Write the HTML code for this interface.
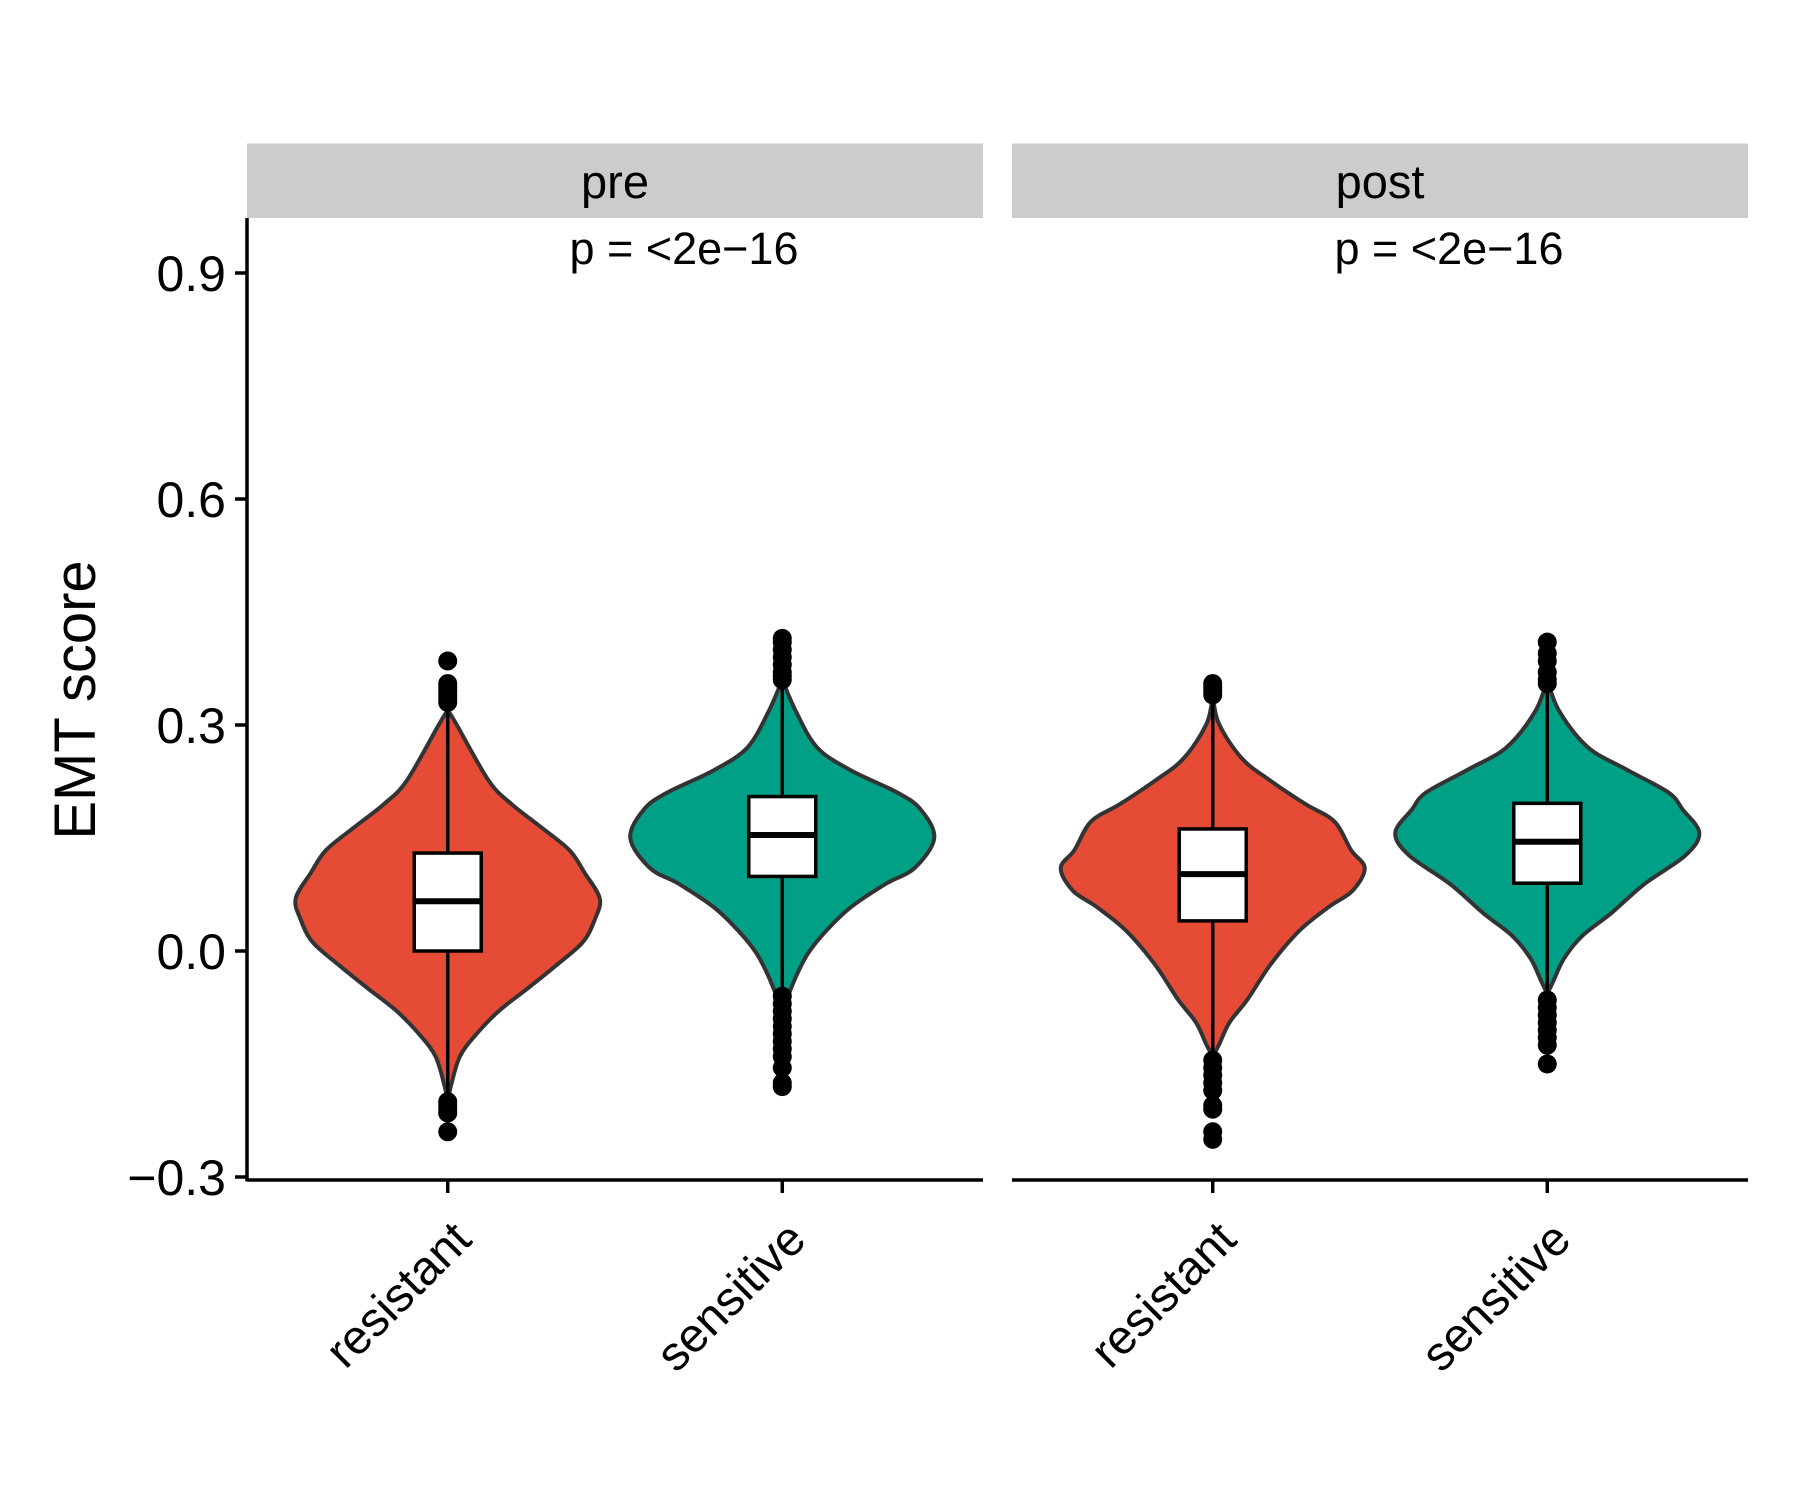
<!DOCTYPE html>
<html><head><meta charset="utf-8">
<style>
html,body{margin:0;padding:0;background:#fff;}
svg{display:block;font-family:"Liberation Sans",Arial,sans-serif;}
</style></head>
<body>
<svg id="chart" width="1800" height="1500" viewBox="0 0 1800 1500">
<g id="panels"></g>
</svg>
<script>
// ---- data ----
const panels = ["pre", "post"];
const categories = ["resistant", "sensitive"];
const yTicks = [-0.3, 0.0, 0.3, 0.6, 0.9];
const yTickLabels = ["\u22120.3", "0.0", "0.3", "0.6", "0.9"];
const pLabels = ["p = <2e\u221216", "p = <2e\u221216"];
// violin density profiles: y values and relative densities (0..1)
const preResY = [0.32,0.30,0.226,0.195,0.165,0.134,0.104,0.07,0.043,0.012,-0.018,-0.049,-0.079,-0.11,-0.14,-0.18,-0.2];
const preResD = [0,0.06,0.27,0.42,0.61,0.80,0.90,1.0,0.97,0.89,0.72,0.53,0.34,0.19,0.08,0.02,0];
const preSenY = [0.36,0.318,0.27,0.24,0.21,0.188,0.15,0.11,0.089,0.058,0.027,-0.003,-0.034,-0.064,-0.08];
const preSenD = [0,0.09,0.23,0.45,0.76,0.91,1.0,0.87,0.68,0.45,0.29,0.17,0.09,0.03,0];
const postResY = [0.34,0.302,0.256,0.226,0.195,0.172,0.134,0.11,0.08,0.058,0.027,-0.018,-0.064,-0.095,-0.125,-0.14];
const postResD = [0,0.04,0.19,0.38,0.61,0.80,0.91,1.0,0.92,0.76,0.57,0.38,0.23,0.11,0.04,0];
const postSenY = [0.36,0.318,0.27,0.24,0.21,0.188,0.157,0.127,0.089,0.05,0.02,-0.01,-0.04,-0.057];
const postSenD = [0,0.08,0.27,0.53,0.80,0.89,1.0,0.91,0.64,0.42,0.23,0.11,0.04,0];
// box stats: [lowerWhisker, q1, median, q3, upperWhisker]
const preResBox = [-0.195, 0.0, 0.066, 0.13, 0.32];
const preSenBox = [-0.06, 0.099, 0.154, 0.205, 0.36];
const postResBox = [-0.14, 0.04, 0.102, 0.162, 0.34];
const postSenBox = [-0.06, 0.09, 0.145, 0.196, 0.355];
// outliers
const preResOut = [0.33,0.335,0.34,0.345,0.35,0.355,0.385,-0.2,-0.205,-0.21,-0.215,-0.24];
const preSenOut = [0.36,0.365,0.37,0.38,0.39,0.40,0.41,0.415,-0.06,-0.07,-0.08,-0.09,-0.1,-0.11,-0.12,-0.13,-0.14,-0.155,-0.175,-0.18];
const postResOut = [0.34,0.345,0.35,0.355,-0.145,-0.155,-0.165,-0.175,-0.185,-0.205,-0.21,-0.24,-0.25];
const postSenOut = [0.355,0.36,0.37,0.385,0.395,0.41,-0.065,-0.075,-0.085,-0.095,-0.105,-0.115,-0.125,-0.15];
const fills = ["#E64B35", "#00A087"];

const violins = [
  [{y:preResY,d:preResD,box:preResBox,out:preResOut},{y:preSenY,d:preSenD,box:preSenBox,out:preSenOut}],
  [{y:postResY,d:postResD,box:postResBox,out:postResOut},{y:postSenY,d:postSenD,box:postSenBox,out:postSenOut}]
];

// ---- layout ----
const NS = "http://www.w3.org/2000/svg";
const panelX = [247, 1012], panelW = 736;
const stripTop = 143.5, stripBot = 218, axisY = 1180;
const halfMax = 152, boxHalf = 33.5;
function yScale(v){ return 951 - v * (226/0.3); }
function xScale(p, i){ return panelX[p] + panelW * ((i + 1) - 0.4) / 2.2; }
function mk(tag, attrs, parent){ const e=document.createElementNS(NS,tag); for(const k in attrs) e.setAttribute(k,attrs[k]); parent.appendChild(e); return e; }
function smoothPath(pts){
  let d = "M" + pts[0][0] + "," + pts[0][1];
  for(let i=0;i<pts.length-1;i++){
    const p0=pts[Math.max(i-1,0)], p1=pts[i], p2=pts[i+1], p3=pts[Math.min(i+2,pts.length-1)];
    const c1=[p1[0]+(p2[0]-p0[0])/6, p1[1]+(p2[1]-p0[1])/6];
    const c2=[p2[0]-(p3[0]-p1[0])/6, p2[1]-(p3[1]-p1[1])/6];
    d += " C"+c1[0]+","+c1[1]+" "+c2[0]+","+c2[1]+" "+p2[0]+","+p2[1];
  }
  return d;
}
const root = document.getElementById("panels");

// y axis
const yax = mk("g",{},root);


const yline = mk("line",{x1:247,y1:stripBot,x2:247,y2:axisY+1.5,stroke:"#000","stroke-width":3.5},yax);


yTicks.forEach((t,i)=>{
  const y=yScale(t);
  const tk = mk("line",{x1:235,y1:y,x2:247,y2:y,stroke:"#000","stroke-width":3.5},yax);
  
  
  const lb = mk("text",{x:226,y:y+18,"text-anchor":"end","font-size":50,fill:"#000"},yax);
  lb.textContent = yTickLabels[i];
  
  
});
const yt = mk("text",{x:0,y:0,"text-anchor":"middle","font-size":58,fill:"#000",transform:"translate(95,700) rotate(-90)"},yax);
yt.textContent = "EMT score";



panels.forEach((pn,p)=>{
  const g = mk("g",{},root);
  
  
  const strip = mk("rect",{x:panelX[p],y:stripTop,width:panelW,height:stripBot-stripTop,fill:"#cccccc"},g);
  
  
  const st = mk("text",{x:panelX[p]+panelW/2,y:198,"text-anchor":"middle","font-size":47,fill:"#000"},g);
  st.textContent = pn;
  
  
  const pt = mk("text",{x:panelX[p]+437,y:264,"text-anchor":"middle","font-size":45,fill:"#000"},g);
  pt.textContent = pLabels[p];
  
  
  const xl = mk("line",{x1:panelX[p],y1:axisY,x2:panelX[p]+panelW,y2:axisY,stroke:"#000","stroke-width":3.5},g);
  
  

  categories.forEach((c,i)=>{
    const cx = xScale(p,i);
    const v = violins[p][i];
    const right = v.y.map((yy,k)=>[cx + v.d[k]*halfMax, yScale(yy)]);
    const left = v.y.map((yy,k)=>[cx - v.d[k]*halfMax, yScale(yy)]).reverse();
    const dR = smoothPath(right), dL = smoothPath(left);
    const vp = mk("path",{d: dR + " L" + dL.slice(1) + " Z", fill:fills[i], stroke:"#333333","stroke-width":4,"stroke-linejoin":"round"},g);
    
    
    const b = v.box;
    const wh = mk("line",{x1:cx,y1:yScale(b[0]),x2:cx,y2:yScale(b[4]),stroke:"#000","stroke-width":3.5},g);
    
    
    const bx = mk("rect",{x:cx-boxHalf,y:yScale(b[3]),width:boxHalf*2,height:yScale(b[1])-yScale(b[3]),fill:"#fff",stroke:"#000","stroke-width":3.5},g);
    
    
    const md = mk("line",{x1:cx-boxHalf,y1:yScale(b[2]),x2:cx+boxHalf,y2:yScale(b[2]),stroke:"#000","stroke-width":6},g);
    
    
    v.out.forEach(o=>{
      const dot = mk("circle",{cx:cx,cy:yScale(o),r:9.5,fill:"#000"},g);
      
      
    });
    const tk = mk("line",{x1:cx,y1:axisY,x2:cx,y2:axisY+13,stroke:"#000","stroke-width":3.5},g);
    
    
    const lb = mk("text",{x:0,y:0,"text-anchor":"end","font-size":48,fill:"#000",transform:"translate("+(cx+26)+","+(axisY+62)+") rotate(-45)"},g);
    lb.textContent = c;
    
    
  });
});
</script>
</body></html>
